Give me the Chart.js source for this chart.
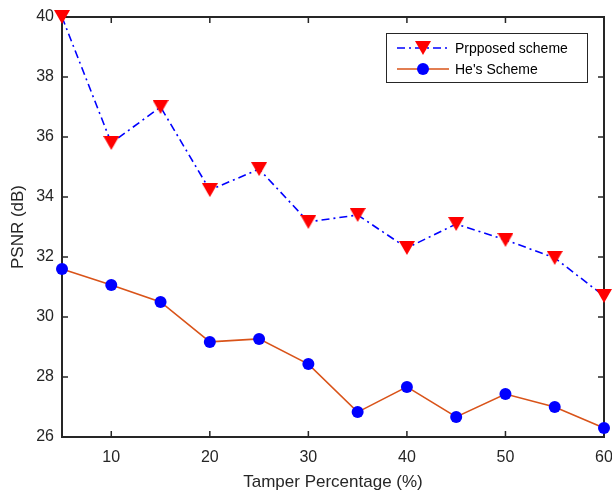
<!DOCTYPE html>
<html>
<head>
<meta charset="utf-8">
<script src="https://cdn.jsdelivr.net/npm/chart.js@4.4.1/dist/chart.umd.min.js"></script>
<style>
  html, body { margin: 0; padding: 0; background: #fff; }
  #wrap { width: 612px; height: 493px; }
</style>
</head>
<body>
<div id="wrap"><canvas id="psnrChart" width="612" height="493"></canvas></div>
<script>
// tamper percentage and PSNR values
const tamper = [5, 10, 15, 20, 25, 30, 35, 40, 45, 50, 55, 60];
const proposed = [40.0, 35.8, 37.0, 34.23, 34.93, 33.17, 33.4, 32.3, 33.1, 32.57, 31.97, 30.7];
const hes = [31.6, 31.07, 30.5, 29.17, 29.27, 28.43, 26.83, 27.67, 26.67, 27.43, 27.0, 26.3];
const xTicks = [10, 20, 30, 40, 50, 60];
const yTicks = [26, 28, 30, 32, 34, 36, 38, 40];
const seriesNames = ['Prpposed scheme', "He's Scheme"];

const AXIS = '#262626';
const FONT = '"Liberation Sans", Arial, sans-serif';

// downward triangle marker, centred on its bounding box like matlab's 'v'
function makeTriangle(w, h, color) {
    const c = document.createElement('canvas');
    c.width = w; c.height = h;
    const g = c.getContext('2d');
    g.fillStyle = color;
    g.beginPath();
    g.moveTo(0, 0);
    g.lineTo(w, 0);
    g.lineTo(w / 2, h);
    g.closePath();
    g.fill();
    return c;
}
const triMarker = makeTriangle(16, 14, '#ff0000');

function toPoints(ys) {
    return tamper.map((x, i) => ({ x: x, y: ys[i] }));
}

// box + inward ticks + legend (matlab style)
const matlabFrame = {
    id: 'matlabFrame',
    beforeDatasetsDraw(chart) {
        const { ctx, chartArea: a, scales } = chart;
        ctx.save();
        ctx.strokeStyle = AXIS;
        ctx.lineWidth = 2;
        ctx.strokeRect(a.left, a.top, a.right - a.left, a.bottom - a.top);

        ctx.lineWidth = 1.5;
        ctx.beginPath();
        xTicks.forEach(v => {
            const px = scales.x.getPixelForValue(v);
            ctx.moveTo(px, a.bottom); ctx.lineTo(px, a.bottom - 6);
            ctx.moveTo(px, a.top); ctx.lineTo(px, a.top + 6);
        });
        yTicks.forEach(v => {
            const py = scales.y.getPixelForValue(v);
            ctx.moveTo(a.left, py); ctx.lineTo(a.left + 6, py);
            ctx.moveTo(a.right, py); ctx.lineTo(a.right - 6, py);
        });
        ctx.stroke();
        ctx.restore();
    },
    afterDatasetsDraw(chart) {
        const { ctx } = chart;
        ctx.save();
        // legend box
        const lx = 386, ly = 33, lw = 201, lh = 49;
        ctx.fillStyle = '#fff';
        ctx.fillRect(lx, ly, lw, lh);
        ctx.strokeStyle = AXIS;
        ctx.lineWidth = 1;
        ctx.strokeRect(lx + 0.5, ly + 0.5, lw, lh);

        const rows = [ly + 15, ly + 36];
        chart.data.datasets.forEach((ds, i) => {
            const y = rows[i];
            ctx.strokeStyle = ds.borderColor;
            ctx.lineWidth = ds.borderWidth;
            ctx.setLineDash(ds.borderDash || []);
            ctx.beginPath();
            ctx.moveTo(397, y); ctx.lineTo(449, y);
            ctx.stroke();
            ctx.setLineDash([]);
            if (i === 0) {
                ctx.drawImage(triMarker, 423 - 8, y - 7);
            } else {
                ctx.fillStyle = '#0000ff';
                ctx.beginPath();
                ctx.arc(423, y, 6, 0, Math.PI * 2);
                ctx.fill();
            }
            ctx.fillStyle = '#000';
            ctx.font = '14px ' + FONT;
            ctx.textBaseline = 'middle';
            ctx.textAlign = 'left';
            ctx.fillText(seriesNames[i], 455, y + 1);
        });
        ctx.restore();
    }
};

new Chart(document.getElementById('psnrChart'), {
    type: 'line',
    data: {
        datasets: [
            {
                label: seriesNames[0],
                data: toPoints(proposed),
                borderColor: '#0000ff',
                borderWidth: 1.6,
                borderDash: [8, 4, 2, 4],
                pointStyle: triMarker,
                backgroundColor: '#ff0000',
                clip: false,
                tension: 0
            },
            {
                label: seriesNames[1],
                data: toPoints(hes),
                borderColor: '#d95319',
                borderWidth: 1.6,
                pointStyle: 'circle',
                pointRadius: 6,
                pointBackgroundColor: '#0000ff',
                pointBorderColor: '#0000ff',
                pointBorderWidth: 0,
                clip: false,
                tension: 0
            }
        ]
    },
    options: {
        responsive: false,
        animation: false,
        events: [],
        layout: { padding: { top: 17, right: 8, left: 0, bottom: 0 }, autoPadding: false },
        plugins: { legend: { display: false }, tooltip: { enabled: false } },
        scales: {
            x: {
                type: 'linear',
                min: 5,
                max: 60,
                afterBuildTicks: s => { s.ticks = xTicks.map(v => ({ value: v })); },
                afterFit: s => { s.height = 56; s.paddingLeft = 0; s.paddingRight = 0; },
                grid: { display: false, drawTicks: false },
                border: { display: false },
                ticks: { color: AXIS, font: { family: FONT, size: 16 }, padding: 11, maxRotation: 0 },
                title: { display: true, text: 'Tamper Percentage (%)', color: AXIS, font: { family: FONT, size: 17 }, padding: { top: 3, bottom: 0 } }
            },
            y: {
                min: 26,
                max: 40,
                afterBuildTicks: s => { s.ticks = yTicks.map(v => ({ value: v })); },
                afterFit: s => { s.width = 62; s.paddingTop = 0; s.paddingBottom = 0; },
                grid: { display: false, drawTicks: false },
                border: { display: false },
                ticks: { color: AXIS, font: { family: FONT, size: 16 }, padding: 8 },
                title: { display: true, text: 'PSNR (dB)', color: AXIS, font: { family: FONT, size: 17 }, padding: { top: 8, bottom: 4 } }
            }
        }
    },
    plugins: [matlabFrame]
});
</script>
</body>
</html>
